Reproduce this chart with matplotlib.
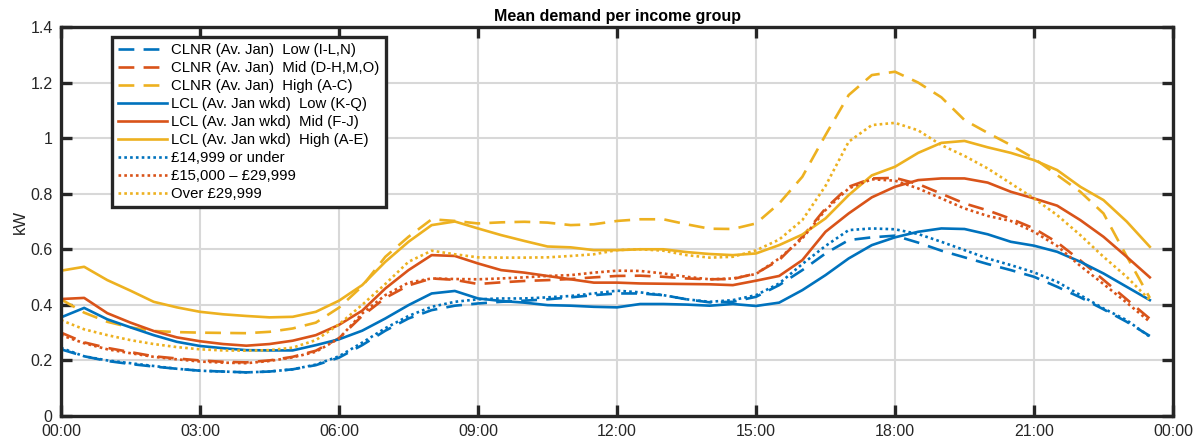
# Mean half-hourly winter demand profiles, split by income group
import numpy as np
import matplotlib.pyplot as plt

# ----------------------------------------------------------------------------------------------------------------------
#  DATA  (kW, half-hourly from 00:00 to 23:30)
# ----------------------------------------------------------------------------------------------------------------------
clnr_low  = [0.240, 0.215, 0.198, 0.187, 0.178, 0.170, 0.163, 0.160, 0.157, 0.160, 0.168, 0.183,
             0.210, 0.255, 0.307, 0.351, 0.381, 0.397, 0.405, 0.411, 0.415, 0.420, 0.427, 0.435,
             0.441, 0.441, 0.435, 0.420, 0.409, 0.411, 0.429, 0.471, 0.525, 0.585, 0.633, 0.643,
             0.649, 0.624, 0.595, 0.571, 0.547, 0.525, 0.501, 0.465, 0.427, 0.384, 0.339, 0.288]
clnr_mid  = [0.300, 0.265, 0.245, 0.230, 0.215, 0.207, 0.200, 0.195, 0.193, 0.200, 0.213, 0.235,
             0.280, 0.360, 0.425, 0.470, 0.495, 0.490, 0.475, 0.481, 0.486, 0.489, 0.493, 0.499,
             0.504, 0.505, 0.501, 0.495, 0.492, 0.493, 0.513, 0.561, 0.645, 0.747, 0.825, 0.855,
             0.857, 0.835, 0.800, 0.765, 0.740, 0.710, 0.675, 0.625, 0.560, 0.490, 0.420, 0.350]
clnr_high = [0.420, 0.372, 0.339, 0.319, 0.306, 0.302, 0.300, 0.299, 0.298, 0.303, 0.315, 0.336,
             0.390, 0.467, 0.573, 0.645, 0.708, 0.702, 0.693, 0.697, 0.699, 0.696, 0.687, 0.690,
             0.702, 0.708, 0.708, 0.690, 0.674, 0.673, 0.693, 0.765, 0.861, 1.011, 1.155, 1.227,
             1.239, 1.200, 1.147, 1.065, 1.019, 0.975, 0.927, 0.867, 0.807, 0.729, 0.575, 0.425]

lcl_low   = [0.355, 0.389, 0.348, 0.319, 0.291, 0.267, 0.252, 0.244, 0.237, 0.236, 0.236, 0.255,
             0.276, 0.307, 0.351, 0.399, 0.441, 0.450, 0.423, 0.414, 0.408, 0.399, 0.397, 0.393,
             0.391, 0.403, 0.403, 0.401, 0.397, 0.403, 0.396, 0.408, 0.453, 0.507, 0.567, 0.615,
             0.643, 0.663, 0.675, 0.673, 0.654, 0.627, 0.613, 0.591, 0.555, 0.513, 0.465, 0.417]
lcl_mid   = [0.421, 0.425, 0.370, 0.336, 0.306, 0.283, 0.269, 0.259, 0.253, 0.259, 0.271, 0.291,
             0.328, 0.379, 0.459, 0.525, 0.579, 0.576, 0.549, 0.525, 0.516, 0.504, 0.492, 0.480,
             0.480, 0.477, 0.476, 0.475, 0.474, 0.471, 0.487, 0.504, 0.561, 0.663, 0.729, 0.787,
             0.825, 0.849, 0.855, 0.855, 0.840, 0.807, 0.783, 0.757, 0.705, 0.645, 0.573, 0.499]
lcl_high  = [0.523, 0.537, 0.489, 0.451, 0.411, 0.391, 0.375, 0.366, 0.360, 0.355, 0.357, 0.375,
             0.415, 0.471, 0.555, 0.627, 0.687, 0.700, 0.675, 0.651, 0.630, 0.610, 0.607, 0.597,
             0.597, 0.600, 0.600, 0.590, 0.583, 0.579, 0.585, 0.615, 0.653, 0.711, 0.795, 0.866,
             0.897, 0.947, 0.983, 0.990, 0.967, 0.947, 0.921, 0.885, 0.825, 0.777, 0.700, 0.609]

inc_low   = [0.245, 0.215, 0.200, 0.190, 0.180, 0.170, 0.163, 0.160, 0.157, 0.160, 0.168, 0.185,
             0.215, 0.264, 0.316, 0.360, 0.393, 0.411, 0.420, 0.423, 0.423, 0.427, 0.432, 0.441,
             0.451, 0.445, 0.435, 0.420, 0.411, 0.417, 0.435, 0.477, 0.547, 0.612, 0.669, 0.675,
             0.672, 0.655, 0.627, 0.597, 0.567, 0.543, 0.517, 0.483, 0.435, 0.387, 0.345, 0.285]
inc_mid   = [0.291, 0.262, 0.240, 0.226, 0.213, 0.204, 0.196, 0.192, 0.190, 0.198, 0.211, 0.231,
             0.279, 0.369, 0.435, 0.480, 0.495, 0.493, 0.492, 0.495, 0.499, 0.504, 0.507, 0.516,
             0.523, 0.522, 0.513, 0.501, 0.492, 0.495, 0.511, 0.567, 0.639, 0.741, 0.819, 0.852,
             0.847, 0.819, 0.783, 0.747, 0.720, 0.702, 0.663, 0.612, 0.540, 0.475, 0.408, 0.339]
inc_high  = [0.345, 0.312, 0.291, 0.273, 0.259, 0.248, 0.240, 0.236, 0.235, 0.237, 0.246, 0.273,
             0.330, 0.400, 0.475, 0.555, 0.595, 0.582, 0.571, 0.570, 0.570, 0.571, 0.576, 0.582,
             0.597, 0.600, 0.595, 0.579, 0.570, 0.573, 0.596, 0.635, 0.705, 0.828, 0.987, 1.047,
             1.055, 1.028, 0.975, 0.936, 0.891, 0.837, 0.783, 0.723, 0.651, 0.573, 0.501, 0.417]

labels = ['CLNR (Av. Jan)  Low (I-L,N)',
          'CLNR (Av. Jan)  Mid (D-H,M,O)',
          'CLNR (Av. Jan)  High (A-C)',
          'LCL (Av. Jan wkd)  Low (K-Q)',
          'LCL (Av. Jan wkd)  Mid (F-J)',
          'LCL (Av. Jan wkd)  High (A-E)',
          '£14,999 or under',
          '£15,000 \u2013 £29,999',
          'Over £29,999']

x_ticks       = [0, 3, 6, 9, 12, 15, 18, 21, 24]
x_tick_labels = ['00:00', '03:00', '06:00', '09:00', '12:00', '15:00', '18:00', '21:00', '00:00']
y_ticks       = [0, 0.2, 0.4, 0.6, 0.8, 1.0, 1.2, 1.4]
y_tick_labels = ['0', '0.2', '0.4', '0.6', '0.8', '1', '1.2', '1.4']

# ----------------------------------------------------------------------------------------------------------------------
#  PLOT
# ----------------------------------------------------------------------------------------------------------------------
plt.rcParams['font.family'] = ['Liberation Sans', 'DejaVu Sans']

blue, orange, yellow = '#0072BD', '#D95319', '#EDB120'
dashed = (0, (6, 3.5))
dotted = (0, (1, 1.2))
lw = 1.9

hours = np.arange(len(clnr_low)) * 0.5
series = [(clnr_low, blue, dashed), (clnr_mid, orange, dashed), (clnr_high, yellow, dashed),
          (lcl_low, blue, '-'), (lcl_mid, orange, '-'), (lcl_high, yellow, '-'),
          (inc_low, blue, dotted), (inc_mid, orange, dotted), (inc_high, yellow, dotted)]

fig = plt.figure(figsize=(12.03, 4.46), dpi=100)
ax = fig.add_axes([61/1203, 1 - 416/446, 1112/1203, 389/446])

for (values, color, style), label in zip(series, labels):
    ax.plot(hours, values, color=color, linestyle=style, linewidth=lw, label=label)

ax.set_xlim(0, 24)
ax.set_ylim(0, 1.4)
ax.set_xticks(x_ticks)
ax.set_xticklabels(x_tick_labels)
ax.set_yticks(y_ticks)
ax.set_yticklabels(y_tick_labels)
ax.grid(True, color='#d8d8d8', linewidth=1.5)
ax.set_axisbelow(True)

for side in ax.spines.values():
    side.set_linewidth(2.4)
    side.set_color('#262626')
ax.tick_params(direction='in', length=8, width=2.4, color='#262626',
               labelsize=11.5, labelcolor='#262626', top=True, right=True, pad=6)

ax.set_ylabel('kW', fontsize=12, color='#262626', labelpad=2)
ax.set_title('Mean demand per income group', fontsize=11.5, fontweight='bold', pad=4)

leg = ax.legend(loc='upper left', bbox_to_anchor=(51/1112, 379/389), borderaxespad=0,
                fontsize=10.7, handlelength=3.3, handletextpad=0.3, labelspacing=0.27,
                borderpad=0.4, fancybox=False, framealpha=1, edgecolor='#262626')
leg.get_frame().set_linewidth(2.4)

fig.savefig('out.png', dpi=100)
